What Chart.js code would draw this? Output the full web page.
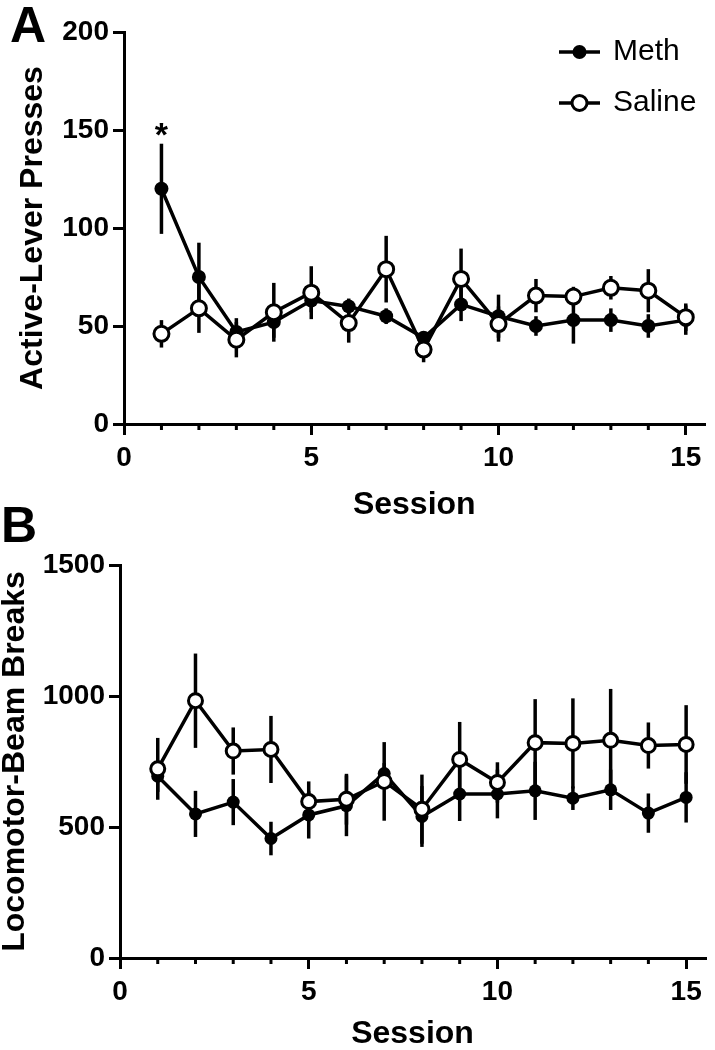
<!DOCTYPE html>
<html>
<head>
<meta charset="utf-8">
<script src="https://cdn.jsdelivr.net/npm/chart.js@4"></script>
<style>
  body { margin: 0; background: #fff; }
  #wrap { position: relative; width: 715px; height: 1050px; overflow: hidden; }
  canvas { position: absolute; left: 0; }
  .panel { position: absolute; font: bold 50px "Liberation Sans", Arial, sans-serif; line-height: 1; color: #000; }
</style>
</head>
<body>
<div id="wrap">
  <canvas id="chartA" width="715" height="530" style="top:0"></canvas>
  <canvas id="chartB" width="715" height="560" style="top:490px"></canvas>
  <div class="panel" style="left:10px;top:0px">A</div>
  <div class="panel" style="left:1px;top:500px">B</div>
</div>
<script>
// sessions on the x axis
const sessions = [1, 2, 3, 4, 5, 6, 7, 8, 9, 10, 11, 12, 13, 14, 15];
const xTicks = [0, 5, 10, 15];

// panel A: active-lever presses (mean, sem)
const methPress = [120, 75, 47, 52, 63, 60, 55, 44, 61, 55, 50, 53, 53, 50, 53];
const methPressSem = [23, 17.5, 7, 8, 6, 4, 4, 3, 8.5, 11, 5, 12, 6, 6, 7.5];
const salinePress = [46, 59, 43, 57, 67, 51.5, 79, 38, 74, 51, 65.5, 65, 69.5, 68, 54.5];
const salinePressSem = [7, 12.5, 9, 15, 13.5, 10, 17, 6.5, 15.5, 9, 8.5, 5, 6, 11, 7];
const pressTicks = [0, 50, 100, 150, 200];
const pressStars = [1]; // sessions marked with *

// panel B: locomotor beam breaks (mean, sem)
const methBeam = [694, 550, 595, 456, 546, 581, 704, 540, 626, 626, 638, 610, 642, 553, 613];
const methBeamSem = [60, 88, 88, 64, 90, 116, 40, 116, 103, 93, 111, 45, 77, 75, 96];
const salineBeam = [722, 982, 790, 796, 597, 606, 674, 568, 758, 670, 822, 819, 831, 811, 815];
const salineBeamSem = [118, 180, 90, 128, 77, 97, 150, 132, 143, 77, 166, 172, 196, 88, 150];
const beamTicks = [0, 500, 1000, 1500];

const FONT = '"Liberation Sans", Arial, sans-serif';

function points(vals) {
  return sessions.map((s, i) => ({ x: s, y: vals[i] }));
}

// vertical SEM bars, drawn under the lines and markers
const errorBars = {
  id: "errorBars",
  beforeDatasetsDraw(chart, args, opts) {
    const ctx = chart.ctx;
    const y = chart.scales.y;
    ctx.save();
    ctx.strokeStyle = "#000";
    ctx.lineWidth = opts.width;
    chart.data.datasets.forEach((ds, i) => {
      const meta = chart.getDatasetMeta(i);
      meta.data.forEach((pt, j) => {
        const v = ds.data[j].y;
        const e = ds.sem[j];
        ctx.beginPath();
        ctx.moveTo(pt.x, y.getPixelForValue(v + e));
        ctx.lineTo(pt.x, y.getPixelForValue(v - e));
        ctx.stroke();
      });
    });
    ctx.restore();
  }
};

// short ticks on the x axis between the labelled ones
const minorTicks = {
  id: "minorTicks",
  afterDraw(chart, args, opts) {
    const ctx = chart.ctx;
    const x = chart.scales.x;
    ctx.save();
    ctx.strokeStyle = "#000";
    ctx.lineWidth = 3;
    sessions.forEach(s => {
      if (xTicks.includes(s)) return;
      const px = x.getPixelForValue(s);
      ctx.beginPath();
      ctx.moveTo(px, x.top);
      ctx.lineTo(px, x.top + opts.length);
      ctx.stroke();
    });
    ctx.restore();
  }
};

// line + marker legend, top right
const lineLegend = {
  id: "lineLegend",
  afterDraw(chart, args, opts) {
    if (!opts.display) return;
    const ctx = chart.ctx;
    const order = [...chart.data.datasets].sort((a, b) => a.legendIndex - b.legendIndex);
    ctx.save();
    order.forEach((ds, i) => {
      const yy = opts.y + i * opts.gap;
      ctx.strokeStyle = "#000";
      ctx.lineWidth = 3.5;
      ctx.beginPath();
      ctx.moveTo(opts.x, yy);
      ctx.lineTo(opts.x + opts.len, yy);
      ctx.stroke();
      ctx.beginPath();
      ctx.arc(opts.x + opts.len / 2, yy, ds.pointRadius, 0, Math.PI * 2);
      ctx.fillStyle = ds.pointBackgroundColor;
      ctx.fill();
      if (ds.pointBorderWidth) {
        ctx.lineWidth = ds.pointBorderWidth;
        ctx.stroke();
      }
      ctx.fillStyle = "#000";
      ctx.font = opts.font;
      ctx.textBaseline = "middle";
      ctx.textAlign = "left";
      ctx.fillText(ds.label, opts.x + opts.len + opts.textGap, yy);
    });
    ctx.restore();
  }
};

// significance asterisks above the Meth error bar
const stars = {
  id: "stars",
  afterDraw(chart, args, opts) {
    if (!opts.sessions) return;
    const ctx = chart.ctx;
    const ds = chart.data.datasets.find(d => d.label === "Meth");
    const x = chart.scales.x, y = chart.scales.y;
    ctx.save();
    ctx.fillStyle = "#000";
    ctx.font = "bold 34px " + FONT;
    ctx.textAlign = "center";
    ctx.textBaseline = "alphabetic";
    opts.sessions.forEach(s => {
      const j = sessions.indexOf(s);
      ctx.fillText("*", x.getPixelForValue(s), y.getPixelForValue(ds.data[j].y + ds.sem[j]) + 2);
    });
    ctx.restore();
  }
};

function makeChart(id, cfg) {
  return new Chart(document.getElementById(id), {
    type: "line",
    data: {
      datasets: [
        {
          label: "Saline", legendIndex: 1,
          data: points(cfg.saline), sem: cfg.salineSem,
          borderColor: "#000", borderWidth: cfg.lineWidth,
          pointRadius: cfg.openRadius, pointBorderWidth: 3,
          pointBackgroundColor: "#fff", pointBorderColor: "#000",
          tension: 0
        },
        {
          label: "Meth", legendIndex: 0,
          data: points(cfg.meth), sem: cfg.methSem,
          borderColor: "#000", borderWidth: cfg.lineWidth,
          pointRadius: cfg.filledRadius, pointBorderWidth: 0,
          pointBackgroundColor: "#000", pointBorderColor: "#000",
          tension: 0
        }
      ]
    },
    options: {
      responsive: false,
      animation: false,
      devicePixelRatio: 1,
      layout: { padding: { top: cfg.padTop, right: cfg.padRight, left: 0, bottom: 0 } },
      plugins: {
        legend: { display: false },
        tooltip: { enabled: false },
        errorBars: { width: 3.5 },
        minorTicks: { length: 6 },
        lineLegend: cfg.legend,
        stars: { sessions: cfg.stars }
      },
      scales: {
        x: {
          type: "linear",
          min: 0,
          max: 15.5,
          afterFit: s => { s.height = cfg.xHeight; },
          border: { display: true, color: "#000", width: 3 },
          grid: {
            drawOnChartArea: false,
            drawTicks: true,
            tickLength: 11,
            lineWidth: 3,
            color: c => (c.tick && xTicks.includes(c.tick.value)) ? "#000" : "rgba(0,0,0,0)"
          },
          ticks: {
            stepSize: 1,
            includeBounds: false,
            autoSkip: false,
            maxRotation: 0,
            padding: 6,
            color: "#000",
            font: { family: FONT, size: 28, weight: "bold" },
            callback: v => xTicks.includes(v) ? String(v) : ""
          },
          title: {
            display: true,
            text: "Session",
            color: "#000",
            font: { family: FONT, size: 32, weight: "bold", lineHeight: 1 },
            padding: { top: 0, bottom: cfg.xTitlePad }
          }
        },
        y: {
          min: 0,
          max: cfg.yTicks[cfg.yTicks.length - 1],
          afterFit: s => { s.width = cfg.yWidth; },
          afterBuildTicks: s => { s.ticks = cfg.yTicks.map(v => ({ value: v })); },
          border: { display: true, color: "#000", width: 3 },
          grid: { drawOnChartArea: false, drawTicks: true, tickLength: 11, lineWidth: 3, color: "#000" },
          ticks: {
            padding: 4,
            color: "#000",
            font: { family: FONT, size: 28, weight: "bold" },
            callback: v => String(v)
          },
          title: {
            display: true,
            text: cfg.yTitle,
            color: "#000",
            font: { family: FONT, size: 32, weight: "bold", lineHeight: 1 },
            padding: { top: cfg.yTitlePad, bottom: 0 }
          }
        }
      }
    },
    plugins: [errorBars, minorTicks, lineLegend, stars]
  });
}

makeChart("chartA", {
  meth: methPress, methSem: methPressSem,
  saline: salinePress, salineSem: salinePressSem,
  yTicks: pressTicks, yTitle: "Active-Lever Presses",
  stars: pressStars,
  lineWidth: 3.5, filledRadius: 7, openRadius: 7.5,
  padTop: 32, padRight: 2, xHeight: 106, yWidth: 124,
  xTitlePad: 9, yTitlePad: 17,
  legend: { display: true, x: 559, y: 52, len: 41, gap: 51, textGap: 13, font: "30px " + FONT }
});

makeChart("chartB", {
  meth: methBeam, methSem: methBeamSem,
  saline: salineBeam, salineSem: salineBeamSem,
  yTicks: beamTicks, yTitle: "Locomotor-Beam Breaks",
  stars: null,
  lineWidth: 3.5, filledRadius: 6.5, openRadius: 7,
  padTop: 75, padRight: 5, xHeight: 92, yWidth: 120,
  xTitlePad: 0, yTitlePad: -1,
  legend: { display: false }
});
</script>
</body>
</html>
